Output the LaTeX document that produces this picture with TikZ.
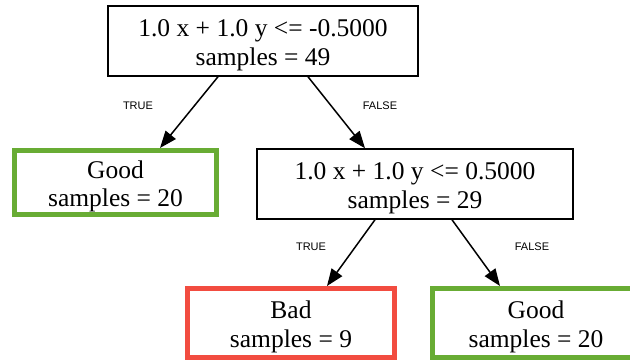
\documentclass[tikz,border=0pt]{standalone}
\usepackage{fontspec}
\setmainfont{Liberation Serif}
\newfontfamily\edgefont{Liberation Sans}
\usetikzlibrary{arrows.meta}
\definecolor{goodgreen}{RGB}{104,172,52}
\definecolor{badred}{RGB}{242,76,64}
\newcommand{\topgap}{\rule{0pt}{25pt}}
\begin{document}
\begin{tikzpicture}[x=1pt, y=-1pt,
  split/.style={draw, line width=1.5pt, align=center, inner sep=0pt,
    font=\fontsize{25.5}{28.5}\selectfont},
  leaf/.style={split, line width=5pt},
  edgelbl/.style={font=\edgefont\fontsize{11}{13}\selectfont},
  branch/.style={line width=1.5pt, -{Triangle[length=17pt,width=13pt]}}]
\useasboundingbox (0, 0) rectangle (630, 362);
\node[split, minimum width=310pt, minimum height=70pt] (root) at(263, 41) {\topgap 1.0 x + 1.0 y <= -0.5000\\samples = 49};
\node[leaf, draw=goodgreen, minimum width=202pt, minimum height=64pt] (good1) at(115.5, 182.5) {\topgap Good\\samples = 20};
\node[split, minimum width=316pt, minimum height=70pt] (mid) at(415, 184) {\topgap 1.0 x + 1.0 y <= 0.5000\\samples = 29};
\node[leaf, draw=badred, minimum width=207pt, minimum height=69pt] (bad) at(291, 323) {\topgap Bad\\samples = 9};
\node[leaf, draw=goodgreen, minimum width=207pt, minimum height=69pt] (good2) at(536, 323) {\topgap Good\\samples = 20};
\draw[branch] ([xshift=-45pt]root.south) -- ([xshift=44.5pt]good1.north);
\draw[branch] ([xshift=45pt]root.south) -- ([xshift=-50pt]mid.north);
\draw[branch] ([xshift=-40pt]mid.south) -- ([xshift=36pt]bad.north);
\draw[branch] ([xshift=37pt]mid.south) -- ([xshift=-36pt]good2.north);
\node[edgelbl] (t1) at(138, 106) {TRUE};
\node[edgelbl] (f1) at(380, 106) {FALSE};
\node[edgelbl] (t2) at(311, 247) {TRUE};
\node[edgelbl] (f2) at(532, 247) {FALSE};
\end{tikzpicture}
\end{document}
